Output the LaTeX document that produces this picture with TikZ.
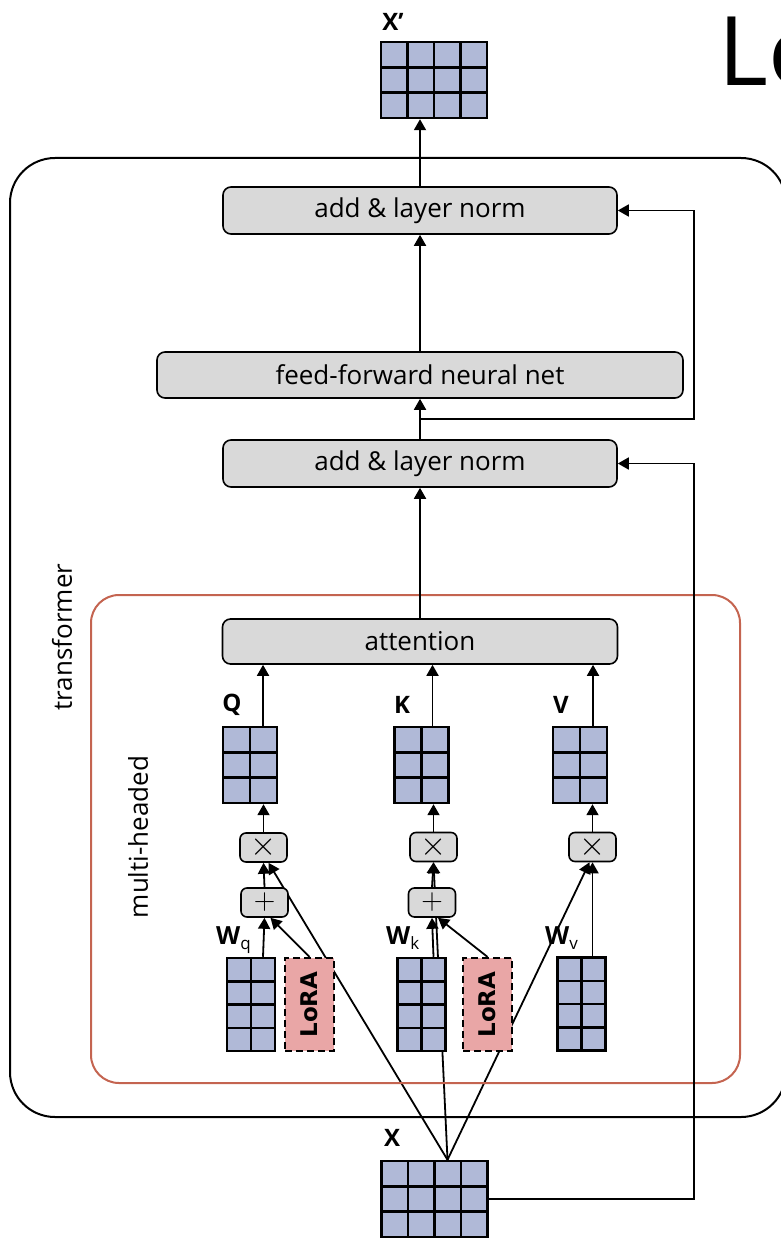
\documentclass[tikz,border=0pt]{standalone}
\usepackage{fontspec}
\setmainfont{Open Sans}
\newfontfamily\lorafont{DejaVu Sans}
\usetikzlibrary{arrows.meta,calc,backgrounds}
\definecolor{matblue}{RGB}{176,185,215}
\definecolor{boxgray}{RGB}{217,217,217}
\definecolor{lorapink}{RGB}{233,166,166}
\definecolor{headred}{RGB}{196,100,80}
\tikzset{mat/.style n args={4}{draw,fill=matblue,line width=2.5pt,inner sep=0pt,
    minimum width=#1*#3,minimum height=#2*#4,
    path picture={
      \pgfmathtruncatemacro\nc{#1-1}
      \pgfmathtruncatemacro\nr{#2-1}
      \foreach \k in {1,...,\nc}
        \draw[line width=2.5pt] ($(path picture bounding box.north west)!\k/#1!(path picture bounding box.north east)$)
          -- ($(path picture bounding box.south west)!\k/#1!(path picture bounding box.south east)$);
      \foreach \k in {1,...,\nr}
        \draw[line width=2.5pt] ($(path picture bounding box.north west)!\k/#2!(path picture bounding box.south west)$)
          -- ($(path picture bounding box.north east)!\k/#2!(path picture bounding box.south east)$);
    }}}

\begin{document}
\begin{tikzpicture}[x=1pt,y=-1pt]
    \tikzstyle{block}=[draw,fill=boxgray,rounded corners=8pt,line width=1.6pt,inner sep=0pt,font=\fontsize{26}{30}\selectfont]
    \tikzstyle{op}=[draw,fill=boxgray,rounded corners=6pt,line width=1.6pt,minimum width=47pt,minimum height=29pt,inner sep=0pt,font=\fontsize{24.88}{26}\selectfont]
    \tikzstyle{lora}=[draw,dash pattern=on 7pt off 4pt,fill=lorapink,line width=2.2pt,minimum width=49pt,minimum height=93pt,inner sep=0pt,font=\lorafont\bfseries\fontsize{23}{28}\selectfont]
    \tikzstyle{lbl}=[inner sep=0pt,font=\bfseries\fontsize{24}{28}\selectfont]
    \tikzstyle{side}=[inner sep=0pt,rotate=90,font=\fontsize{26}{30}\selectfont]
    \tikzstyle{arr}=[-{Triangle[length=11pt,width=12pt]},line width=1.8pt]
    \useasboundingbox (0,0) rectangle (780,1238);
    % frames
    \draw[line width=2pt,rounded corners=45pt] (10,158) rectangle (786,1117);
    \draw[headred,line width=2pt,rounded corners=28pt] (91,595) rectangle (740,1083);
    \node[side] (TF) at (62,637) {transformer};
    \node[side] (MH) at (138,837) {multi-headed};
    \node[anchor=base west,inner sep=0pt,font=\fontsize{96}{96}\selectfont] (Title) at (718,86) {Lo};
    % input / output
    \node[mat={4}{3}{26.5}{25.3}] (Xout) at (434,80) {};
    \node[lbl] (XoutL) at (393,22) {X’};
    \node[mat={4}{3}{26.5}{25.3}] (Xin) at (434.5,1199) {};
    \node[lbl] (XinL) at (392,1138) {X};
    % stack
    \node[block,minimum width=394pt,minimum height=47pt] (N1) at (420,210.5) {add \& layer norm};
    \node[block,minimum width=526pt,minimum height=46pt] (FF) at (420,375) {feed-forward neural net};
    \node[block,minimum width=394pt,minimum height=47pt] (N2) at (420,463.5) {add \& layer norm};
    \node[block,minimum width=395pt,minimum height=45pt] (Att) at (420,641.5) {attention};
    \draw[arr] (N1.north) -- (N1.north |- Xout.south);
    \draw[arr] (FF.north) -- (FF.north |- N1.south);
    \draw[arr] (N2.north) -- (N2.north |- FF.south);
    \draw[arr] (Att.north) -- (Att.north |- N2.south);
    % residuals
    \coordinate (Rail) at (694,0);
    \coordinate (Sp) at ($(N2.north)!.5!(FF.south)$);
    \draw[arr] (Sp) -- (Sp -| Rail) |- (N1.east);
    \draw[arr] (Xin.east) -- (Xin.east -| Rail) |- (N2.east);
    % Q K V
    \node[mat={2}{3}{27}{25.3}] (Q) at (250,765) {};
    \node[mat={2}{3}{27}{25.3}] (K) at (421.5,765) {};
    \node[mat={2}{3}{27}{25.3}] (V) at (580,765) {};
    \node[lbl] (QL) at (232,705) {Q};
    \node[lbl] (KL) at (402,705) {K};
    \node[lbl] (VL) at (561,705) {V};
    \coordinate (Qo) at ([xshift=13pt]Q.north);
    \coordinate (Ko) at ([xshift=11pt]K.north);
    \coordinate (Vo) at ([xshift=13pt]V.north);
    \draw[arr] (Qo) -- (Qo |- Att.south);
    \draw[arr] (Ko) -- (Ko |- Att.south);
    \draw[arr] (Vo) -- (Vo |- Att.south);
    % products and sums
    \node[op] (Mq) at (263.5,847.5) {\scalebox{1.35}{$\times$}};
    \node[op] (Mk) at (433.5,847) {\scalebox{1.35}{$\times$}};
    \node[op] (Mv) at (592.5,847) {\scalebox{1.35}{$\times$}};
    \node[op] (Aq) at (264.5,902.5) {\scalebox{1.2}{$+$}};
    \node[op] (Ak) at (432,902.5) {\scalebox{1.2}{$+$}};
    \draw[arr] (Mq.north) -- (Mq.north |- Q.south);
    \draw[arr] (Mk.north) -- (Mk.north |- K.south);
    \draw[arr] (Mv.north) -- (Mv.north |- V.south);
    \draw[arr] (Aq.north) -- (Mq.south);
    \draw[arr] (Ak.north) -- (Mk.south);
    % weights and adapters
    \node[mat={2}{4}{24}{23.25}] (Wq) at (251,1004.5) {};
    \node[mat={2}{4}{24}{23.25}] (Wk) at (421.5,1004.5) {};
    \node[mat={2}{4}{24}{23.25}] (Wv) at (581.5,1004) {};
    \node[lora] (Lq) at (309.5,1004.5) {\rotatebox{90}{LoRA}};
    \node[lora] (Lk) at (487.5,1004.5) {\rotatebox{90}{LoRA}};
    \node[anchor=base west,inner sep=0pt,font=\fontsize{25}{28}\selectfont] (WqL) at (216,944) {\textbf{W}{\fontsize{17}{17}\selectfont\raisebox{-5pt}{q}}};
    \node[anchor=base west,inner sep=0pt,font=\fontsize{25}{28}\selectfont] (WkL) at (386,944) {\textbf{W}{\fontsize{17}{17}\selectfont\raisebox{-5pt}{k}}};
    \node[anchor=base west,inner sep=0pt,font=\fontsize{25}{28}\selectfont] (WvL) at (545,944) {\textbf{W}{\fontsize{17}{17}\selectfont\raisebox{-5pt}{v}}};
    \draw[arr] ([xshift=12pt]Wq.north) -- (Aq.south);
    \draw[arr] ([xshift=12pt]Wk.north) -- (Ak.south);
    \draw[arr] (Mv.south |- Wv.north) -- (Mv.south);
    \draw[arr] (Lq.north) -- ([xshift=6pt]Aq.south);
    \draw[arr] (Lk.north) -- ([xshift=6pt]Ak.south);
    % X feeds every head, under the boxes
    \coordinate (Xtop) at ([xshift=13pt]Xin.north);
    \begin{pgfonlayer}{background}
    \draw[arr] (Xtop) -- ([xshift=5pt]Mq.south);
    \draw[arr] (Xtop) -- (Mk.south);
    \draw[arr] (Xtop) -- ([xshift=-3pt]Mv.south);
    \end{pgfonlayer}
\end{tikzpicture}
\end{document}
